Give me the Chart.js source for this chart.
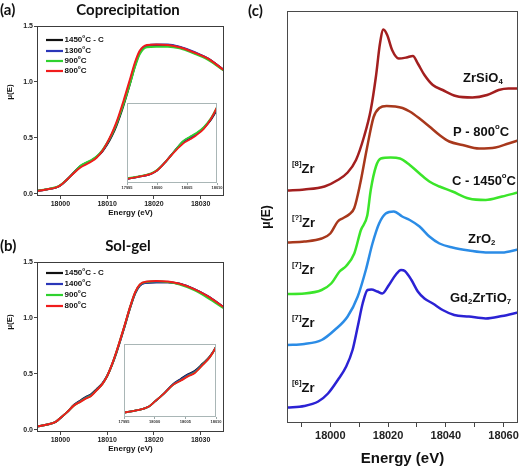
<!DOCTYPE html>
<html>
<head>
<meta charset="utf-8">
<script src="https://cdn.jsdelivr.net/npm/chart.js@4.4.1/dist/chart.umd.min.js"></script>
<style>
  html, body { margin: 0; padding: 0; background: #fff; }
  #page { position: relative; width: 522px; height: 468px; overflow: hidden; }
  canvas { position: absolute; }
</style>
</head>
<body>
<div id="page">
  <canvas id="chartA" width="232" height="222" style="left:0px;top:0px"></canvas>
  <canvas id="chartB" width="232" height="222" style="left:0px;top:236px"></canvas>
  <canvas id="chartC" width="282" height="468" style="left:240px;top:0px"></canvas>
  <canvas id="insetA" width="110" height="91" style="left:117px;top:100px"></canvas>
  <canvas id="insetB" width="112" height="84" style="left:114px;top:341px"></canvas>
</div>
<script>
// Fuentes
const SANS = '"Liberation Sans", Arial, sans-serif';
const TITLE = 'Lato, "Open Sans", sans-serif';

// Marcas de los ejes
const tickEnergyAB = [18000, 18010, 18020, 18030];
const tickMuAB = [0, 0.5, 1.0, 1.5];
const tickEnergyInset = [17995, 18000, 18005, 18010];
const tickEnergyC = [17990, 18000, 18010, 18020, 18030, 18040, 18050, 18060];

// Energía común para (a) y (b)
const energyAB = [17995, 17997, 17999, 18000, 18001.5, 18003, 18004.3, 18005.5, 18006.5, 18007.8, 18009, 18010,
  18011, 18012, 18013.5, 18015, 18016, 18017, 18018.5, 18020.5, 18023, 18025.5, 18028.5, 18031.5, 18035];

// (a) Coprecipitación
const namesA = ['1450°C - C', '1300°C', '900°C', '800°C'];
const muA1450 = [0.025, 0.038, 0.055, 0.075, 0.13, 0.195, 0.245, 0.272, 0.292, 0.33, 0.38, 0.44, 0.515, 0.61, 0.79, 1.0, 1.15, 1.26, 1.32, 1.33, 1.33, 1.31, 1.265, 1.21, 1.105];
const muA1300 = [0.025, 0.038, 0.055, 0.075, 0.13, 0.195, 0.248, 0.275, 0.295, 0.332, 0.385, 0.45, 0.53, 0.625, 0.81, 1.02, 1.165, 1.27, 1.325, 1.335, 1.335, 1.315, 1.27, 1.21, 1.105];
const muA900 = [0.028, 0.04, 0.058, 0.078, 0.13, 0.195, 0.25, 0.278, 0.298, 0.335, 0.39, 0.455, 0.53, 0.625, 0.80, 1.0, 1.14, 1.25, 1.31, 1.315, 1.315, 1.30, 1.255, 1.20, 1.10];
const muA800 = [0.025, 0.038, 0.055, 0.075, 0.13, 0.19, 0.235, 0.262, 0.285, 0.325, 0.385, 0.455, 0.54, 0.64, 0.83, 1.04, 1.18, 1.28, 1.33, 1.335, 1.33, 1.31, 1.265, 1.21, 1.105];

// (b) Sol-gel
const namesB = ['1450°C - C', '1400°C', '900°C', '800°C'];
const muB1450 = [0.03, 0.045, 0.07, 0.105, 0.16, 0.225, 0.262, 0.295, 0.315, 0.365, 0.415, 0.48, 0.575, 0.69, 0.89, 1.10, 1.22, 1.29, 1.315, 1.32, 1.32, 1.305, 1.26, 1.195, 1.095];
const muB1400 = [0.03, 0.045, 0.07, 0.105, 0.16, 0.223, 0.258, 0.29, 0.31, 0.36, 0.413, 0.48, 0.577, 0.695, 0.895, 1.105, 1.222, 1.29, 1.315, 1.32, 1.32, 1.305, 1.26, 1.195, 1.095];
const muB900 = [0.03, 0.045, 0.07, 0.105, 0.16, 0.22, 0.252, 0.283, 0.303, 0.357, 0.41, 0.48, 0.578, 0.698, 0.898, 1.108, 1.228, 1.298, 1.322, 1.327, 1.32, 1.298, 1.25, 1.18, 1.085];
const muB800 = [0.03, 0.045, 0.07, 0.105, 0.16, 0.22, 0.25, 0.28, 0.30, 0.355, 0.41, 0.48, 0.58, 0.70, 0.90, 1.11, 1.23, 1.30, 1.325, 1.33, 1.325, 1.305, 1.26, 1.195, 1.095];

const colorsAB = ['#111111', '#2a36b8', '#2fd12f', '#f01c1c'];

// (c) Referencias (curvas desplazadas)
const zrsio4E = [17985, 17991, 17998, 18002.6, 18006, 18008.9, 18011.7, 18014, 18015.8, 18017.2, 18018.4, 18019.7, 18021.4, 18023.7, 18026.4, 18028.6, 18030.3, 18032.6, 18035.5, 18038.9, 18043.5, 18049.2, 18054.3, 18058.3, 18061.7, 18065];
const zrsio4Mu = [4.65, 4.67, 4.73, 4.86, 5.01, 5.26, 5.73, 6.26, 6.93, 7.59, 7.87, 7.76, 7.46, 7.29, 7.31, 7.34, 7.19, 6.96, 6.76, 6.66, 6.54, 6.51, 6.56, 6.66, 6.69, 6.69];
const p800E = [17985, 17991, 17997, 18000, 18002.6, 18004.5, 18006.5, 18008.3, 18010.4, 18012.7, 18015, 18017, 18019.5, 18022.5, 18025, 18027.5, 18030.9, 18034.3, 18037.8, 18041.2, 18045.8, 18051.5, 18057.2, 18061.7, 18065];
const p800Mu = [3.61, 3.63, 3.69, 3.79, 4.03, 4.10, 4.17, 4.3, 4.8, 5.5, 6.12, 6.3, 6.34, 6.33, 6.3, 6.23, 6.09, 5.93, 5.76, 5.63, 5.56, 5.49, 5.51, 5.59, 5.65];
const c1450E = [17985, 17991, 17997, 18000.3, 18003.2, 18005.5, 18008.3, 18010.6, 18012.8, 18014, 18015.8, 18017.5, 18020.9, 18024.1, 18027.5, 18030.9, 18034.3, 18037.8, 18042.3, 18048, 18053.8, 18059.5, 18065];
const c1450Mu = [2.58, 2.59, 2.66, 2.79, 3.03, 3.14, 3.39, 3.86, 4.15, 4.66, 5.13, 5.29, 5.31, 5.29, 5.16, 4.99, 4.83, 4.73, 4.63, 4.49, 4.46, 4.53, 4.61];
const zro2E = [17985, 17991, 17997, 18001.5, 18006, 18009.5, 18012.3, 18014.6, 18016.9, 18019.2, 18022, 18024.9, 18027.5, 18030.9, 18034.3, 18037.8, 18042.3, 18048, 18053.8, 18059.5, 18065];
const zro2Mu = [1.56, 1.58, 1.66, 1.86, 2.13, 2.53, 3.06, 3.59, 3.99, 4.19, 4.23, 4.13, 4.06, 3.93, 3.73, 3.59, 3.51, 3.45, 3.41, 3.41, 3.47];
const gdE = [17985, 17991, 17995.8, 17999.2, 18002.6, 18005.5, 18007.7, 18009.5, 18011.2, 18012.9, 18014.2, 18016.3, 18018, 18020.3, 18022.6, 18024.5, 18025.8, 18028.1, 18030.3, 18032.6, 18035.5, 18038.9, 18042.9, 18048, 18053.8, 18059.5, 18065];
const gdMu = [0.31, 0.34, 0.43, 0.59, 0.86, 1.13, 1.46, 1.93, 2.39, 2.66, 2.67, 2.63, 2.59, 2.76, 2.96, 3.06, 3.04, 2.86, 2.63, 2.49, 2.39, 2.26, 2.16, 2.13, 2.09, 2.14, 2.21];

const refNames = ['ZrSiO4', 'P - 800°C', 'C - 1450°C', 'ZrO2', 'Gd2ZrTiO7'];
const refColors = ['#a31f1f', '#a8381c', '#3be52a', '#2b8ce6', '#2b22d4'];
const zrSites = ['[8]', '[?]', '[7]', '[7]', '[6]'];

// Texto con subíndices / superíndices
function toParts(label) {
  if (label.includes('°')) {
    const [a, b] = label.split('°');
    return [[a, ''], ['o', 'sup'], [b, '']];
  }
  return label.split(/(\d+)/).filter(Boolean).map(s => [s, /^\d+$/.test(s) ? 'sub' : '']);
}

function drawRich(ctx, it) {
  const size = it.size;
  const fam = it.family || SANS;
  const segs = it.parts.map(([t, m]) => ({
    t,
    s: m ? size * 0.6 : size,
    dy: m === 'sub' ? size * 0.3 : m === 'sup' ? -size * 0.36 : 0
  }));
  let w = 0;
  segs.forEach(sg => {
    ctx.font = `bold ${sg.s}px ${fam}`;
    sg.w = ctx.measureText(sg.t).width;
    w += sg.w;
  });
  ctx.save();
  ctx.translate(it.x, it.y);
  if (it.rotate) ctx.rotate(it.rotate);
  let x = it.align === 'center' ? -w / 2 : it.align === 'right' ? -w : 0;
  ctx.textBaseline = 'middle';
  ctx.textAlign = 'left';
  ctx.fillStyle = it.color || '#111';
  segs.forEach(sg => {
    ctx.font = `bold ${sg.s}px ${fam}`;
    ctx.fillText(sg.t, x, sg.dy);
    x += sg.w;
  });
  ctx.restore();
}

function textPlugin(items) {
  return {
    id: 'texts',
    afterDraw(chart) { items.forEach(it => drawRich(chart.ctx, it)); }
  };
}

// Marco completo alrededor del área de la gráfica
function framePlugin(color) {
  return {
    id: 'frame',
    afterDatasetsDraw(chart) {
      const { ctx, chartArea: a } = chart;
      ctx.save();
      ctx.strokeStyle = color;
      ctx.lineWidth = 1;
      ctx.strokeRect(Math.round(a.left) + 0.5, Math.round(a.top) + 0.5,
        Math.round(a.right - a.left) - 1, Math.round(a.bottom - a.top) - 1);
      ctx.restore();
    }
  };
}

// Leyenda con líneas
function legendPlugin(names, colors, rows) {
  return {
    id: 'legendLines',
    afterDraw(chart) {
      const ctx = chart.ctx;
      names.forEach((n, i) => {
        ctx.save();
        ctx.strokeStyle = colors[i];
        ctx.lineWidth = 2.2;
        ctx.beginPath();
        ctx.moveTo(46, rows[i]);
        ctx.lineTo(63, rows[i]);
        ctx.stroke();
        ctx.restore();
        drawRich(ctx, { parts: toParts(n), x: 64.5, y: rows[i], size: 8, color: '#111' });
      });
    }
  };
}

const fixedTicks = list => s => { s.ticks = list.map(v => ({ value: v })); };

function xasDatasets(series, width) {
  return series.map((mu, i) => ({
    data: energyAB.map((e, j) => ({ x: e, y: mu[j] })),
    borderColor: colorsAB[i],
    borderWidth: width,
    pointRadius: 0,
    cubicInterpolationMode: 'monotone',
    order: series.length - 1 - i
  }));
}

function makeMain(id, names, series, tag, title, legendRows, muY) {
  new Chart(document.getElementById(id), {
    type: 'line',
    data: { datasets: xasDatasets(series, 2) },
    options: {
      animation: false,
      responsive: false,
      events: [],
      layout: { padding: { left: 0, top: 26, right: 8, bottom: 0 } },
      plugins: { legend: { display: false }, tooltip: { enabled: false } },
      scales: {
        x: {
          type: 'linear', min: 17995, max: 18035,
          afterBuildTicks: fixedTicks(tickEnergyAB),
          afterFit: s => { s.height = 26; },
          grid: { drawOnChartArea: false, tickLength: 3, color: '#444' },
          border: { display: false },
          ticks: {
            padding: 1, color: '#222', maxRotation: 0, autoSkip: false,
            font: { family: SANS, size: 7, weight: 'bold' },
            callback: v => String(v)
          },
          title: {
            display: true, text: 'Energy (eV)', color: '#111',
            font: { family: SANS, size: 8, weight: 'bold' },
            padding: { top: 0, bottom: 4 }
          }
        },
        y: {
          min: -0.02, max: 1.5,
          afterBuildTicks: fixedTicks(tickMuAB),
          afterFit: s => { s.width = 37; },
          grid: { drawOnChartArea: false, tickLength: 3, color: '#444' },
          border: { display: false },
          ticks: {
            padding: 1, color: '#222', autoSkip: false,
            font: { family: SANS, size: 7, weight: 'bold' },
            callback: v => v.toFixed(1)
          }
        }
      }
    },
    plugins: [
      framePlugin('#3c3c3c'),
      legendPlugin(names, colorsAB, legendRows),
      textPlugin([
        { parts: [[tag, '']], x: 0, y: 10, size: 15, family: TITLE, color: '#111' },
        { parts: [[title, '']], x: 128, y: 10, size: 15, family: TITLE, align: 'center', color: '#111' },
        { parts: [['μ(E)', '']], x: 10, y: muY, size: 8, rotate: -Math.PI / 2, align: 'center', color: '#111' }
      ])
    ]
  });
}

function makeInset(id, series, yMax) {
  new Chart(document.getElementById(id), {
    type: 'line',
    data: { datasets: xasDatasets(series, 1.8) },
    options: {
      animation: false,
      responsive: false,
      events: [],
      layout: { padding: { left: 10, top: 3, right: 10, bottom: 0 } },
      plugins: { legend: { display: false }, tooltip: { enabled: false } },
      scales: {
        x: {
          type: 'linear', min: 17995, max: 18010,
          afterBuildTicks: fixedTicks(tickEnergyInset),
          afterFit: s => { s.height = 8; },
          grid: { drawOnChartArea: false, tickLength: 2, color: '#9aa8a8' },
          border: { display: false },
          ticks: {
            padding: 0, color: '#333', maxRotation: 0, autoSkip: false,
            font: { family: SANS, size: 4, weight: 'bold' },
            callback: v => String(v)
          }
        },
        y: { display: false, min: 0, max: yMax }
      }
    },
    plugins: [framePlugin('#a9b6b6')]
  });
}

makeMain('chartA', namesA, [muA1450, muA1300, muA900, muA800], '(a)', 'Coprecipitation', [40, 51, 61, 71], 92);
makeMain('chartB', namesB, [muB1450, muB1400, muB900, muB800], '(b)', 'Sol-gel', [37, 48, 59, 70], 86);
makeInset('insetA', [muA1450, muA1300, muA900, muA800], 0.48);
makeInset('insetB', [muB1450, muB1400, muB900, muB800], 0.5);

// (c) espectros de referencia
const refE = [zrsio4E, p800E, c1450E, zro2E, gdE];
const refMu = [zrsio4Mu, p800Mu, c1450Mu, zro2Mu, gdMu];
const labelPos = [[223, 78], [213, 132], [212, 181], [228, 239], [210, 298]];
const sitePosY = [169, 223, 270, 323, 388];

new Chart(document.getElementById('chartC'), {
  type: 'line',
  data: {
    datasets: refNames.map((n, i) => ({
      label: n,
      data: refE[i].map((e, j) => ({ x: e, y: refMu[i][j] })),
      borderColor: refColors[i],
      borderWidth: 2.5,
      pointRadius: 0,
      cubicInterpolationMode: 'monotone'
    }))
  },
  options: {
    animation: false,
    responsive: false,
    events: [],
    layout: { padding: { left: 0, top: 11, right: 4, bottom: 0 } },
    plugins: { legend: { display: false }, tooltip: { enabled: false } },
    scales: {
      x: {
        type: 'linear', min: 17985, max: 18065,
        afterBuildTicks: fixedTicks(tickEnergyC),
        afterFit: s => { s.height = 45; },
        grid: { drawOnChartArea: false, tickLength: 4, color: '#444' },
        border: { display: false },
        ticks: {
          padding: 2, color: '#222', maxRotation: 0, autoSkip: false,
          font: { family: SANS, size: 11, weight: 'bold' },
          callback: v => (v % 20 === 0 ? String(v) : '')
        },
        title: {
          display: true, text: 'Energy (eV)', color: '#111',
          font: { family: SANS, size: 15, weight: 'bold' },
          padding: { top: 0, bottom: 0 }
        }
      },
      y: {
        min: 0, max: 8.24,
        afterFit: s => { s.width = 47; },
        grid: { display: false },
        border: { display: false },
        ticks: { display: false },
        title: {
          display: true, text: 'μ(E)', color: '#111',
          font: { family: SANS, size: 12, weight: 'bold' },
          padding: { top: 19, bottom: 0 }
        }
      }
    }
  },
  plugins: [
    framePlugin('#4a4a4a'),
    textPlugin([
      { parts: [['(c)', '']], x: 8, y: 11, size: 15, family: TITLE, color: '#111' },
      ...refNames.map((n, i) => ({ parts: toParts(n), x: labelPos[i][0], y: labelPos[i][1], size: 13, color: '#111' })),
      ...zrSites.map((s, i) => ({ parts: [[s, 'sup'], ['Zr', '']], x: 52, y: sitePosY[i], size: 13, color: '#111' }))
    ])
  ]
});
</script>
</body>
</html>
